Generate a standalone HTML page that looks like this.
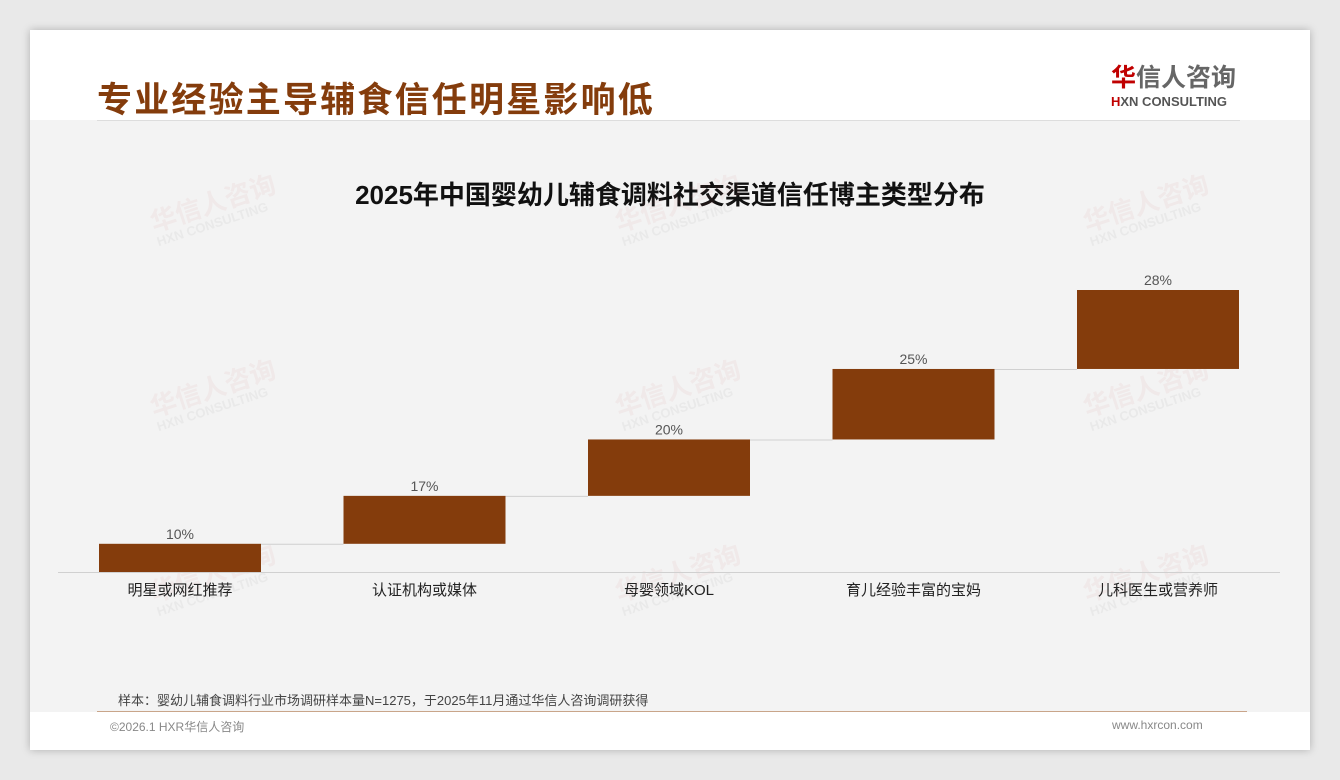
<!DOCTYPE html>
<html><head><meta charset="utf-8"><style>
body{margin:0;width:1340px;height:780px;background:#e9e9e9;font-family:"Liberation Sans","Noto Sans CJK SC",sans-serif;position:relative;overflow:hidden}
#card{position:absolute;left:30px;top:30px;width:1280px;height:720px;background:#fff;box-shadow:0 0 8px rgba(0,0,0,.25)}
#body{position:absolute;left:30px;top:120px;width:1280px;height:592px;background:#f3f3f3}
.t{position:absolute;white-space:nowrap}
.wm{position:absolute;color:rgba(200,120,120,.08);font-weight:bold;font-size:26px;transform:rotate(-18deg);line-height:1}
.wm span{display:block;font-size:13px;color:rgba(150,150,150,.10)}
</style></head><body>
<div id="card"></div>
<div id="body"></div>
<div class="t" style="left:97px;top:72px;font-size:35px;font-weight:bold;color:#843c0c;letter-spacing:2.2px">专业经验主导辅食信任明星影响低</div>
<div class="t" style="left:1111px;top:63px;font-size:25px;font-weight:bold;color:#666;line-height:30px"><span style="color:#c00000">华</span>信人咨询</div>
<div class="t" style="left:1111px;top:94px;font-size:13px;font-weight:bold;color:#555"><span style="color:#c00000">H</span>XN CONSULTING</div>
<div class="t" style="left:97px;top:120px;width:1143px;height:1px;background:#ddd"></div>
<div class="t" style="left:0;width:1340px;text-align:center;top:175px;font-size:26px;font-weight:bold;color:#111">2025年中国婴幼儿辅食调料社交渠道信任博主类型分布</div>
<div class="wm" style="left:150px;top:190px">华信人咨询<span>HXN CONSULTING</span></div>
<div class="wm" style="left:615px;top:190px">华信人咨询<span>HXN CONSULTING</span></div>
<div class="wm" style="left:1083px;top:190px">华信人咨询<span>HXN CONSULTING</span></div>
<div class="wm" style="left:150px;top:375px">华信人咨询<span>HXN CONSULTING</span></div>
<div class="wm" style="left:615px;top:375px">华信人咨询<span>HXN CONSULTING</span></div>
<div class="wm" style="left:1083px;top:375px">华信人咨询<span>HXN CONSULTING</span></div>
<div class="wm" style="left:150px;top:560px">华信人咨询<span>HXN CONSULTING</span></div>
<div class="wm" style="left:615px;top:560px">华信人咨询<span>HXN CONSULTING</span></div>
<div class="wm" style="left:1083px;top:560px">华信人咨询<span>HXN CONSULTING</span></div>
<svg id="chart" width="1340" height="780" style="position:absolute;left:0;top:0"></svg>
<div class="t" style="left:118px;top:690px;font-size:13px;color:#444">样本：婴幼儿辅食调料行业市场调研样本量N=1275，于2025年11月通过华信人咨询调研获得</div>
<div class="t" style="left:97px;top:711px;width:1150px;height:1px;background:#c9a58a"></div>
<div class="t" style="left:110px;top:718px;font-size:12px;color:#888">©2026.1 HXR华信人咨询</div>
<div class="t" style="left:1112px;top:718px;font-size:12px;color:#888">www.hxrcon.com</div>
<script>
const categories=["明星或网红推荐","认证机构或媒体","母婴领域KOL","育儿经验丰富的宝妈","儿科医生或营养师"];
const values=[10,17,20,25,28];
const labels=["10%","17%","20%","25%","28%"];
const svg=document.getElementById('chart');const NS='http://www.w3.org/2000/svg';
const base=572,scale=2.82,x0=99,step=244.5,bw=162;
const y=v=>base-v*scale;const xb=i=>x0+i*step;
function mk(tag,a){const e=document.createElementNS(NS,tag);for(const k in a)e.setAttribute(k,a[k]);svg.appendChild(e);return e;}
const ax=mk('line',{x1:58,x2:1280,y1:base+0.5,y2:base+0.5,stroke:'#d0d0d0','stroke-width':1});


let cum=0;
values.forEach((v,i)=>{
 const bot=cum,top=cum+v;
 const r=mk('rect',{x:xb(i),y:y(top),width:bw,height:y(bot)-y(top),fill:'#843c0c'});
 
 
 if(i<values.length-1){
  const c=mk('line',{x1:xb(i)+bw,x2:xb(i+1),y1:y(top)+0.5,y2:y(top)+0.5,stroke:'#d0d0d0','stroke-width':1});
  
  
 }
 const t=mk('text',{x:xb(i)+bw/2,y:y(top)-5,'text-anchor':'middle','font-size':14,fill:'#555'});t.textContent=labels[i];
 
 
 const c2=mk('text',{x:xb(i)+bw/2,y:base+23,'text-anchor':'middle','font-size':15,fill:'#222','font-family':'"Liberation Sans","Noto Sans CJK SC",sans-serif'});c2.textContent=categories[i];
 
 
 cum=top;
});
</script>
</body></html>
